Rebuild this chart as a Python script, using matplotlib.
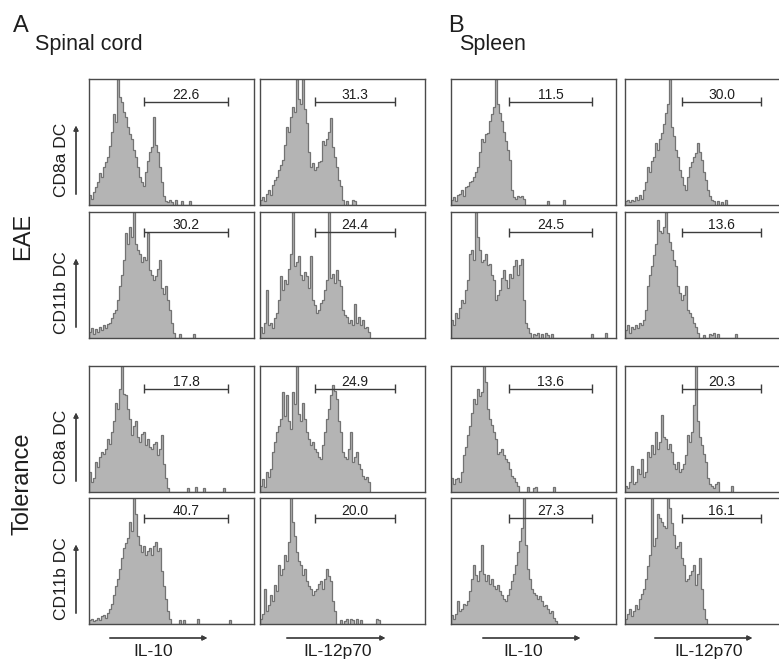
import matplotlib.pyplot as plt

plt.rcParams['font.family'] = ['Liberation Sans', 'DejaVu Sans']

W, H = 779, 662

# histogram heights (% of panel height), one value per channel bin
# sc = spinal cord, sp = spleen, eae / tol = group
sc_eae_cd8_il10 = [8, 5, 10, 14, 18, 25, 22, 30, 34, 38, 47, 58, 72, 66, 100, 86, 82, 74, 70, 62,
                   56, 52, 44, 38, 30, 22, 18, 15, 26, 35, 42, 46, 70, 48, 42, 30, 18, 7, 3, 2,
                   4, 2, 0, 4, 0, 0, 3, 0, 0, 0, 3]
sc_eae_cd8_il12 = [4, 6, 3, 9, 12, 8, 16, 20, 22, 28, 32, 36, 48, 62, 58, 70, 78, 74, 100, 84,
                   80, 100, 76, 65, 42, 30, 33, 28, 30, 34, 35, 51, 48, 52, 58, 69, 46, 38, 30, 20,
                   15, 4, 0, 3, 0, 0, 4, 3]
sp_eae_cd8_il10 = [4, 6, 3, 8, 9, 12, 7, 14, 15, 18, 19, 22, 26, 30, 42, 52, 50, 56, 57, 67,
                   72, 78, 100, 80, 73, 67, 58, 51, 44, 36, 12, 6, 5, 7, 6, 7, 5, 0, 0, 0,
                   0, 0, 0, 0, 0, 0, 0, 0, 3, 0, 0, 0, 0, 0, 0, 0, 4]
sp_eae_cd8_il12 = [3, 4, 2, 4, 3, 6, 4, 8, 5, 12, 18, 30, 26, 35, 38, 49, 44, 52, 57, 64,
                   73, 80, 100, 62, 55, 44, 38, 28, 22, 16, 12, 22, 30, 34, 38, 41, 49, 42, 36, 26,
                   20, 12, 7, 4, 3, 0, 3, 0, 2, 0, 4]

sc_eae_cd11b_il10 = [5, 8, 3, 7, 5, 9, 6, 10, 8, 11, 12, 16, 20, 22, 30, 41, 50, 62, 83, 75,
                     88, 80, 100, 75, 70, 67, 60, 64, 62, 83, 54, 50, 46, 49, 55, 62, 40, 35, 41, 30,
                     22, 12, 4, 0, 0, 3, 0, 0, 0, 0, 0, 0, 3]
sc_eae_cd11b_il12 = [9, 4, 12, 38, 10, 12, 8, 16, 20, 30, 49, 38, 46, 43, 55, 67, 100, 57, 60, 65,
                     50, 46, 52, 49, 40, 65, 30, 26, 20, 22, 28, 30, 38, 46, 100, 48, 51, 44, 54, 46,
                     41, 22, 18, 17, 12, 14, 10, 27, 12, 17, 10, 14, 8, 9, 5]
sp_eae_cd11b_il10 = [14, 10, 20, 16, 24, 30, 28, 38, 46, 67, 70, 62, 100, 80, 70, 60, 62, 67, 58, 59,
                     50, 46, 30, 34, 38, 48, 54, 46, 40, 51, 48, 57, 62, 50, 58, 63, 30, 12, 8, 4,
                     0, 3, 2, 4, 0, 3, 0, 4, 2, 0, 3, 0, 0, 0, 0, 0, 0, 0, 0, 0,
                     0, 0, 0, 0, 0, 0, 0, 0, 0, 0, 3, 0, 0, 0, 0, 0, 0, 4]
sp_eae_cd11b_il12 = [6, 10, 4, 9, 7, 10, 8, 12, 10, 14, 22, 41, 50, 57, 66, 75, 94, 85, 83, 88,
                     100, 83, 76, 70, 62, 57, 41, 36, 30, 34, 41, 22, 20, 17, 12, 9, 4, 0, 0, 2,
                     0, 0, 3, 2, 4, 0, 3, 0, 0, 0, 0, 0, 0, 0, 0, 3]

sc_tol_cd8_il10 = [16, 8, 11, 24, 20, 28, 32, 30, 34, 42, 38, 48, 56, 71, 66, 82, 100, 78, 77, 66,
                   58, 45, 52, 56, 44, 40, 46, 48, 37, 42, 36, 34, 38, 40, 29, 34, 45, 22, 11, 3,
                   0, 0, 0, 0, 0, 0, 0, 0, 0, 3, 0, 0, 0, 4, 0, 0, 0, 3, 0, 0,
                   0, 0, 0, 0, 0, 0, 0, 3]
sc_tol_cd8_il12 = [5, 10, 4, 16, 12, 18, 32, 40, 48, 52, 58, 79, 60, 77, 56, 50, 79, 70, 100, 62,
                   56, 71, 58, 48, 42, 37, 40, 34, 32, 28, 26, 37, 48, 58, 66, 77, 85, 80, 74, 56,
                   48, 32, 28, 26, 34, 48, 24, 28, 32, 22, 18, 13, 10, 12, 8]
sp_tol_cd8_il10 = [11, 6, 10, 11, 8, 16, 29, 36, 45, 52, 63, 74, 70, 82, 76, 79, 100, 87, 66, 58,
                   53, 48, 42, 30, 32, 34, 29, 26, 24, 18, 13, 11, 8, 5, 0, 0, 0, 0, 4, 0,
                   0, 3, 4, 0, 0, 0, 0, 0, 0, 0, 0, 4]
sp_tol_cd8_il12 = [5, 3, 8, 21, 6, 8, 18, 14, 26, 12, 16, 32, 28, 37, 30, 48, 34, 40, 61, 44,
                   42, 34, 38, 32, 22, 18, 24, 16, 18, 22, 29, 45, 40, 48, 69, 100, 56, 44, 37, 30,
                   24, 11, 6, 5, 3, 6, 8, 0, 0, 0, 0, 0, 0, 5]

sc_tol_cd11b_il10 = [3, 4, 2, 3, 5, 3, 6, 7, 5, 9, 12, 16, 23, 30, 36, 44, 52, 60, 64, 68,
                     81, 74, 100, 87, 70, 63, 57, 62, 55, 58, 60, 55, 62, 65, 58, 60, 42, 30, 20, 10,
                     4, 0, 0, 0, 0, 3, 0, 3, 0, 0, 0, 0, 0, 0, 4, 0, 0, 0, 0, 0,
                     0, 0, 0, 0, 0, 0, 0, 0, 0, 0, 3]
sc_tol_cd11b_il12 = [4, 8, 28, 10, 15, 23, 18, 31, 26, 47, 39, 44, 55, 50, 65, 100, 81, 70, 57, 50,
                     47, 39, 44, 34, 30, 28, 23, 26, 28, 32, 34, 28, 36, 44, 38, 34, 18, 10, 0, 0,
                     3, 0, 2, 4, 0, 4, 3, 0, 4, 0, 3, 0, 0, 0, 0, 0, 0, 0, 4, 3]
sp_tol_cd11b_il10 = [7, 4, 8, 18, 10, 12, 16, 15, 18, 26, 36, 47, 39, 34, 42, 63, 40, 34, 39, 32,
                     36, 30, 28, 31, 26, 23, 20, 18, 23, 28, 34, 40, 47, 57, 66, 76, 100, 63, 44, 36,
                     28, 25, 23, 20, 22, 18, 14, 15, 12, 9, 10, 5, 2]
sp_tol_cd11b_il12 = [4, 8, 12, 6, 10, 15, 12, 20, 24, 28, 36, 46, 55, 100, 62, 68, 87, 84, 81, 78,
                     76, 100, 92, 80, 71, 60, 62, 65, 52, 47, 34, 36, 39, 42, 47, 31, 40, 52, 28, 12,
                     4]

panels = [
    [sc_eae_cd8_il10, sc_eae_cd8_il12, sp_eae_cd8_il10, sp_eae_cd8_il12],
    [sc_eae_cd11b_il10, sc_eae_cd11b_il12, sp_eae_cd11b_il10, sp_eae_cd11b_il12],
    [sc_tol_cd8_il10, sc_tol_cd8_il12, sp_tol_cd8_il10, sp_tol_cd8_il12],
    [sc_tol_cd11b_il10, sc_tol_cd11b_il12, sp_tol_cd11b_il10, sp_tol_cd11b_il12],
]
percent_pos = [
    ['22.6', '31.3', '11.5', '30.0'],
    ['30.2', '24.4', '24.5', '13.6'],
    ['17.8', '24.9', '13.6', '20.3'],
    ['40.7', '20.0', '27.3', '16.1'],
]
# gate limits in channel bins, per column
gate_lo = [27.5, 27.5, 29.0, 28.5]
gate_hi = [69.5, 67.5, 70.5, 68.0]
gate_y = [82, 84, 82, 84]

row_labels = ['CD8a DC', 'CD11b DC', 'CD8a DC', 'CD11b DC']
col_labels = ['IL-10', 'IL-12p70', 'IL-10', 'IL-12p70']

# layout in pixels
col_left = [89, 260, 451, 625]
row_top = [79, 212, 366, 498]
pw, ph = 165, 126

fill_c = '#b4b4b4'
edge_c = '#737373'
line_c = '#3c3c3c'
txt_c = '#1e1e1e'

fig = plt.figure(figsize=(W / 100, H / 100), dpi=100)

for r in range(4):
    for c in range(4):
        vals = panels[r][c]
        ax = fig.add_axes([col_left[c] / W, 1 - (row_top[r] + ph) / H, pw / W, ph / H])
        edges = list(range(len(vals) + 1))
        ax.stairs(vals, edges, fill=True, color=fill_c, lw=0)
        ax.stairs(vals, edges, color=edge_c, lw=0.9)
        ax.set_xlim(0, 82.5)
        ax.set_ylim(0, 100)
        ax.set_xticks([])
        ax.set_yticks([])
        for s in ax.spines.values():
            s.set_color('#4a4a4a')
            s.set_linewidth(1.0)
        gy = gate_y[r]
        lo, hi = gate_lo[c], gate_hi[c]
        ax.hlines(gy, lo, hi, color=line_c, lw=1.0)
        ax.vlines([lo, hi], gy - 3.5, gy + 3.5, color=line_c, lw=1.0)
        ax.text((lo + hi) / 2, gy + 2.5, percent_pos[r][c], ha='center', va='baseline',
                fontsize=10, color=txt_c)

# y-axis labels with arrows
for r in range(4):
    y0 = H - (row_top[r] + ph - 8)
    y1 = H - (row_top[r] + 44)
    fig.text(62 / W, ((y0 + y1) / 2) / H, row_labels[r], rotation=90, ha='center', va='center',
             fontsize=12.5, color=txt_c)
    fig.add_artist(plt.annotate('', xy=(76, y1), xytext=(76, y0), xycoords='figure pixels',
                                textcoords='figure pixels',
                                arrowprops=dict(arrowstyle='-|>', lw=0.9, color=line_c,
                                                mutation_scale=7)))

# x-axis labels with arrows
arrow_x = [(107, 210), (284, 388), (480, 583), (652, 755)]
label_x = [153, 338, 523, 709]
for c in range(4):
    x0, x1 = arrow_x[c]
    fig.add_artist(plt.annotate('', xy=(x1, H - 638), xytext=(x0, H - 638), xycoords='figure pixels',
                                textcoords='figure pixels',
                                arrowprops=dict(arrowstyle='-|>', lw=0.9, color=line_c,
                                                mutation_scale=7)))
    fig.text(label_x[c] / W, 1 - 656 / H, col_labels[c], ha='center', va='baseline',
             fontsize=12.5, color=txt_c)

# group labels
fig.text(23 / W, 1 - 236 / H, 'EAE', rotation=90, ha='center', va='center', fontsize=17, color=txt_c)
fig.text(23 / W, 1 - 484 / H, 'Tolerance', rotation=90, ha='center', va='center', fontsize=17,
         color=txt_c)

# panel titles
fig.text(13 / W, 1 - 32 / H, 'A', ha='left', va='baseline', fontsize=17, color=txt_c)
fig.text(35 / W, 1 - 50 / H, 'Spinal cord', ha='left', va='baseline', fontsize=15.5, color=txt_c)
fig.text(448 / W, 1 - 32 / H, 'B', ha='left', va='baseline', fontsize=17, color=txt_c)
fig.text(459 / W, 1 - 50 / H, 'Spleen', ha='left', va='baseline', fontsize=15.5, color=txt_c)

fig.savefig('out.png', dpi=100)
